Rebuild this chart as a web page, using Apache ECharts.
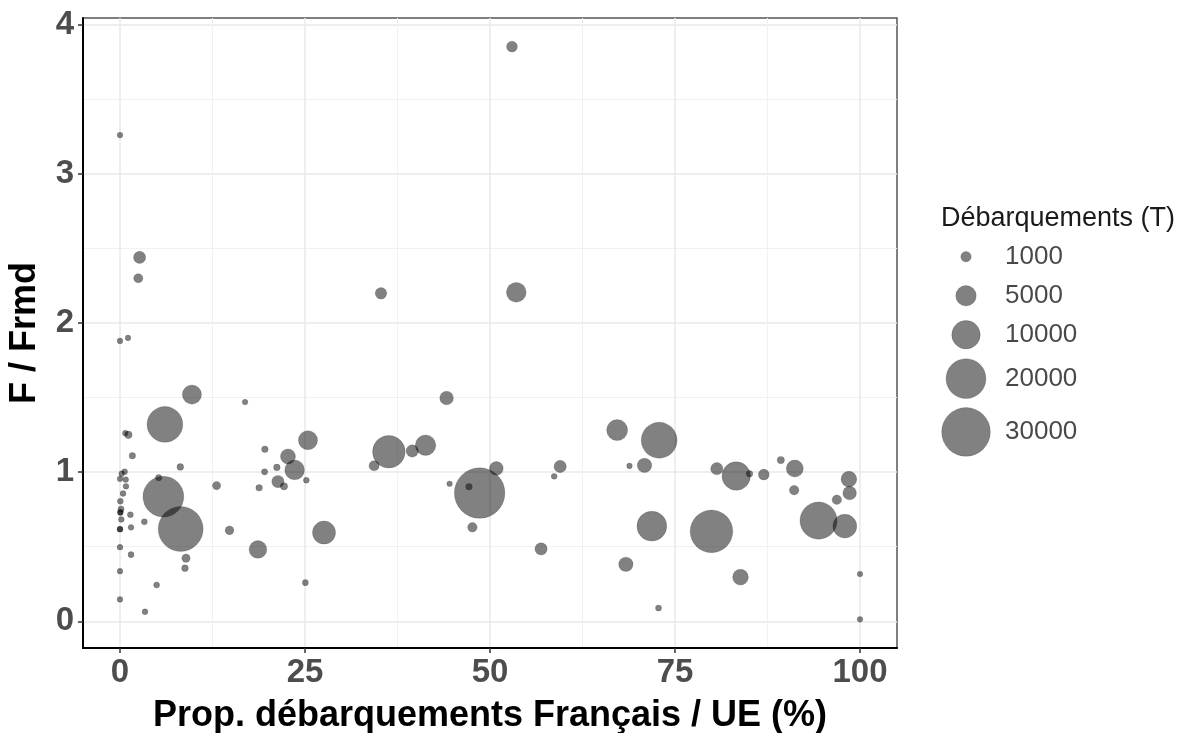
<!DOCTYPE html>
<html>
<head>
<meta charset="utf-8">
<script src="https://cdn.jsdelivr.net/npm/echarts@6/dist/echarts.min.js"></script>
<style>
html, body { margin: 0; padding: 0; background: #fff; }
#chart { width: 1180px; height: 733px; }
</style>
</head>
<body>
<div id="chart"></div>
<script>
// proportion des débarquements français / UE (%)
var propFR = [
  0, 2.65, 2.47, 0, 1.08, 9.72, 16.9, 6.07, 0.72, 1.13, 1.67, 8.15, 0.63, 0.23, 0, 0.77, 0.81, 5.23, 0.41, 0.05,
  0.14, 0.05, 0.05, 0.18, 1.4, 1.49, 0, 0, 3.29, 5.86, 8.2, 13.05, 14.8, 0, 1.49, 8.92, 8.78, 0, 4.95, 0, 3.38,
  25.4, 19.58, 22.7, 23.6, 21.2, 19.54, 21.34, 22.16, 25.18, 18.8, 18.64, 27.57, 25.05, 44.13, 36.33, 34.34,
  39.49, 41.29, 44.54, 47.16, 48.6, 50.86, 47.62, 56.9,
  52.97, 35.27, 53.55,
  59.48, 58.67, 67.18, 72.86, 68.85, 70.88, 71.87, 68.36, 72.77, 80.65, 83.27, 85.07, 87.0, 89.3, 91.19, 91.1,
  79.93, 83.85, 94.4, 97.95, 98.5, 98.6, 96.87, 100, 100
];
// F / Frmd
var fRatio = [
  3.26, 2.44, 2.30, 1.88, 1.90, 1.52, 1.47, 1.32, 1.262, 1.25, 1.11, 1.035, 1.003, 0.99, 0.955, 0.95, 0.905, 0.963, 0.857, 0.805,
  0.752, 0.73, 0.73, 0.683, 0.715, 0.63, 0.618, 0.618, 0.667, 0.836, 0.619, 0.91, 0.61, 0.497, 0.447, 0.423, 0.356, 0.336, 0.243, 0.147, 0.064,
  1.214, 1.153, 1.105, 1.015, 1.032, 1.002, 0.937, 0.905, 0.946, 0.895, 0.482, 0.595, 0.259, 1.497, 1.137, 1.043,
  1.142, 1.181, 0.922, 0.902, 0.86, 1.025, 0.63, 0.485,
  3.853, 2.199, 2.206,
  1.038, 0.972, 1.282, 1.214, 1.042, 1.045, 0.638, 0.382, 0.089, 1.023, 0.974, 0.989, 0.984, 1.081, 1.024, 0.879,
  0.603, 0.296, 0.675, 0.638, 0.953, 0.86, 0.815, 0.317, 0.013
];
// débarquements (T)
var landings = [
  30, 1500, 700, 30, 20, 4300, 20, 16000, 50, 350, 150, 200, 50, 30, 30, 50, 50, 120, 50, 80,
  120, 30, 30, 50, 80, 50, 40, 40, 80, 21000, 25500, 500, 600, 50, 80, 500, 200, 30, 80, 30, 50,
  4300, 170, 2500, 4600, 170, 120, 1555, 308, 60, 170, 3640, 6450, 100, 2000, 13200, 955,
  1555, 5000, 20, 170, 32400, 2000, 770, 1555,
  1100, 1300, 4600,
  1555, 60, 5300, 16100, 20, 2260, 11000, 2260, 100, 1555, 10000, 170, 1124, 308, 3324, 770,
  22900, 2770, 17300, 6870, 2770, 2000, 770, 20, 20
];
var xTicks = [0, 25, 50, 75, 100];
var xMinor = [12.5, 37.5, 62.5, 87.5];
var yTicks = [0, 1, 2, 3, 4];
var yMinor = [0.5, 1.5, 2.5, 3.5];
var legendValues = [1000, 5000, 10000, 20000, 30000];

// surface proportionnelle au tonnage
function bubble(v) { return Math.sqrt(30 + 0.078 * v); }

function expand(arr) {
  var lo = Math.min.apply(null, arr), hi = Math.max.apply(null, arr);
  var pad = (hi - lo) * 0.05;
  return [lo - pad, hi + pad];
}
var xr = expand(propFR), yr = expand(fRatio);

var points = propFR.map(function (x, i) { return [x, fRatio[i], landings[i]]; });

// position des clés de légende (hauteur = max(taille + 9, 39))
var keyH = legendValues.map(function (v) { return Math.max(bubble(v) + 9, 39); });
var keyPos = [0];
for (var k = 1; k < keyH.length; k++) keyPos.push(keyPos[k - 1] + (keyH[k - 1] + keyH[k]) / 2);
var keyData = legendValues.map(function (v, i) { return [0, keyPos[i], v]; });
var keyLabels = legendValues.map(function (v, i) { return [1, keyPos[i], v]; });

var pointStyle = { color: 'rgba(0,0,0,0.62)', borderColor: 'rgba(0,0,0,0.25)', borderWidth: 0.8 };
var tickFont = { color: '#4d4d4d', fontSize: 33, fontWeight: 'bold', fontFamily: 'Liberation Sans, Arial, sans-serif' };
var titleFont = { color: '#000', fontSize: 36, fontWeight: 'bold', fontFamily: 'Liberation Sans, Arial, sans-serif' };

var chart = echarts.init(document.getElementById('chart'), null, { renderer: 'canvas' });
chart.setOption({
  animation: false,
  backgroundColor: '#fff',
  title: {
    text: 'Débarquements (T)',
    left: 936, top: 200,
    textStyle: { fontSize: 27, fontWeight: 'normal', color: '#1a1a1a', fontFamily: 'Liberation Sans, Arial, sans-serif' }
  },
  grid: [
    { left: 83, right: 283, top: 18, bottom: 85, outerBoundsMode: 'none', containLabel: false,
      show: true, borderColor: '#555', borderWidth: 1.5 },
    { left: 966, width: 39, top: 256.7, height: 180, outerBoundsMode: 'none' }
  ],
  xAxis: [
    {
      gridIndex: 0, type: 'value', min: xr[0], max: xr[1],
      name: 'Prop. débarquements Français / UE (%)', nameLocation: 'middle', nameGap: 50,
      nameTextStyle: titleFont,
      axisLine: { show: true, onZero: false, lineStyle: { color: '#000', width: 2 } },
      axisTick: { show: true, length: 5, customValues: xTicks, lineStyle: { color: '#333', width: 1.5 } },
      axisLabel: Object.assign({ customValues: xTicks, margin: 8 }, tickFont),
      splitLine: { show: true, lineStyle: { color: '#e8e8e8', width: 1.5 } }
    },
    {
      gridIndex: 0, type: 'value', min: xr[0], max: xr[1], position: 'bottom',
      axisLine: { show: false }, axisLabel: { show: false },
      axisTick: { show: false, customValues: xMinor },
      splitLine: { show: true, lineStyle: { color: '#f1f1f1', width: 1 } }
    },
    { gridIndex: 1, type: 'value', min: 0, max: 1, show: false }
  ],
  yAxis: [
    {
      gridIndex: 0, type: 'value', min: yr[0], max: yr[1],
      name: 'F / Frmd', nameLocation: 'middle', nameGap: 40,
      nameTextStyle: titleFont,
      axisLine: { show: true, onZero: false, lineStyle: { color: '#000', width: 2 } },
      axisTick: { show: true, length: 5, customValues: yTicks, lineStyle: { color: '#333', width: 1.5 } },
      axisLabel: Object.assign({ customValues: yTicks, margin: 9 }, tickFont),
      splitLine: { show: true, lineStyle: { color: '#e8e8e8', width: 1.5 } }
    },
    {
      gridIndex: 0, type: 'value', min: yr[0], max: yr[1], position: 'left',
      axisLine: { show: false }, axisLabel: { show: false },
      axisTick: { show: false, customValues: yMinor },
      splitLine: { show: true, lineStyle: { color: '#f1f1f1', width: 1 } }
    },
    { gridIndex: 1, type: 'value', min: 0, max: 180, inverse: true, show: false }
  ],
  series: [
    {
      type: 'scatter', xAxisIndex: 0, yAxisIndex: 0,
      data: points,
      symbolSize: function (d) { return bubble(d[2]); },
      itemStyle: pointStyle
    },
    {
      type: 'scatter', xAxisIndex: 2, yAxisIndex: 2,
      data: keyData,
      symbolSize: function (d) { return bubble(d[2]); },
      itemStyle: pointStyle
    },
    {
      type: 'scatter', xAxisIndex: 2, yAxisIndex: 2,
      data: keyLabels, symbolSize: 0,
      label: {
        show: true, position: 'right', distance: 0,
        formatter: function (p) { return String(p.value[2]); },
        fontSize: 26, color: '#1a1a1a', fontFamily: 'Liberation Sans, Arial, sans-serif'
      }
    }
  ]
});
</script>
</body>
</html>
